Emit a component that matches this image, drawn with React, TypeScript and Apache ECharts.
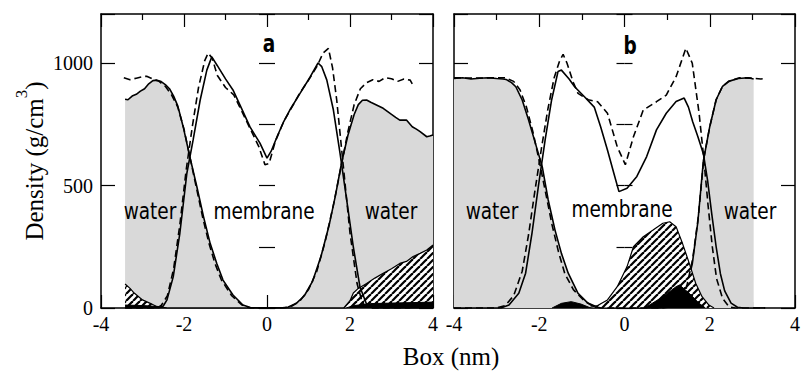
import React, { useEffect, useRef } from 'react';
import * as echarts from 'echarts';

type P = [number, number][];

// ---------- Panel a ----------
const aWaterSolid: P = [
  [-3.42, 852], [-3.35, 850], [-3.25, 865], [-3.15, 872], [-3.05, 885], [-2.95, 895], [-2.85, 915], [-2.75, 928],
  [-2.65, 930], [-2.55, 924], [-2.45, 912], [-2.35, 895], [-2.25, 865], [-2.15, 825], [-2.02, 740], [-1.86, 618],
  [-1.69, 495], [-1.53, 373], [-1.37, 264], [-1.21, 182], [-1.06, 114], [-0.82, 53], [-0.58, 12], [-0.4, 2],
  [-0.2, 0], [0.3, 0], [0.5, 3], [0.7, 18], [0.9, 50], [1.1, 110], [1.3, 210], [1.5, 340], [1.65, 460],
  [1.8, 595], [1.95, 705], [2.1, 790], [2.2, 830], [2.3, 848], [2.4, 849], [2.5, 840], [2.6, 832], [2.8, 815],
  [3.0, 790], [3.1, 778], [3.2, 767], [3.36, 767], [3.5, 740], [3.6, 730], [3.69, 720], [3.85, 699], [3.92, 702], [4.0, 706],
];
const aWaterDashed: P = [
  [-3.45, 940], [-3.3, 932], [-3.15, 938], [-3.0, 944], [-2.9, 946], [-2.75, 935], [-2.6, 925], [-2.45, 905],
  [-2.3, 870], [-2.15, 820], [-2.0, 730], [-1.85, 610], [-1.7, 490], [-1.55, 370], [-1.4, 265], [-1.25, 180],
  [-1.1, 115], [-0.85, 50], [-0.6, 12], [-0.4, 0], [0.4, 0], [0.6, 8], [0.8, 30], [1.0, 75], [1.2, 150],
  [1.4, 270], [1.6, 420], [1.8, 590], [1.95, 720], [2.1, 830], [2.25, 895], [2.4, 920], [2.55, 932], [2.7, 925],
  [2.85, 940], [3.0, 936], [3.15, 925], [3.3, 935], [3.45, 930], [3.5, 915],
];
const aMembraneSolid: P = [
  [-3.42, 0], [-2.6, 0], [-2.5, 8], [-2.41, 33], [-2.26, 127], [-2.1, 305], [-1.93, 551], [-1.78, 686],
  [-1.61, 849], [-1.45, 971], [-1.33, 1025], [-1.2, 990], [-1.0, 935], [-0.82, 890], [-0.6, 810], [-0.41, 739],
  [-0.17, 673], [0, 612], [0.1, 640], [0.24, 698], [0.4, 760], [0.55, 808], [0.8, 877], [1.04, 943], [1.23, 1000],
  [1.32, 985], [1.44, 931], [1.6, 808], [1.76, 631], [1.92, 441], [2.08, 249], [2.24, 86], [2.4, 15], [2.55, 0], [4.0, 0],
];
const aMembraneDashed: P = [
  [-3.42, 0], [-2.65, 0], [-2.55, 10], [-2.4, 50], [-2.25, 160], [-2.1, 340], [-1.95, 560], [-1.8, 740],
  [-1.65, 900], [-1.5, 1010], [-1.42, 1040], [-1.32, 1020], [-1.2, 950], [-1.0, 900], [-0.8, 870], [-0.6, 800],
  [-0.4, 730], [-0.2, 660], [-0.05, 585], [0.05, 590], [0.2, 680], [0.4, 760], [0.6, 820], [0.8, 880], [1.0, 930],
  [1.2, 985], [1.35, 1040], [1.48, 1060], [1.58, 980], [1.68, 849], [1.84, 577], [2.0, 306], [2.17, 100],
  [2.3, 20], [2.45, 0], [3.45, 0],
];
const aHatched: P = [
  [-3.42, 98], [-3.3, 80], [-3.2, 61], [-3.0, 33], [-2.8, 18], [-2.65, 5], [-2.54, 0], [1.85, 0], [2.0, 30],
  [2.08, 61], [2.2, 80], [2.4, 100], [2.6, 122], [2.8, 142], [3.0, 160], [3.2, 182], [3.36, 190], [3.52, 210],
  [3.69, 223], [3.85, 237], [4.0, 257],
];
const aBlack: P = [
  [-3.42, 12], [-3.0, 10], [-2.6, 6], [-2.4, 0], [1.9, 0], [2.1, 10], [2.5, 18], [3.0, 20], [3.5, 22], [4.0, 24],
];

// ---------- Panel b ----------
const bWaterSolid: P = [
  [-4, 937], [-3.8, 940], [-3.6, 935], [-3.4, 938], [-3.2, 940], [-3.0, 937], [-2.85, 935], [-2.78, 933],
  [-2.65, 920], [-2.55, 903], [-2.4, 849], [-2.25, 767], [-2.09, 672], [-1.93, 577], [-1.79, 441], [-1.63, 318],
  [-1.48, 223], [-1.32, 142], [-1.09, 60], [-0.86, 20], [-0.63, 3], [-0.4, 0], [0.8, 0], [1.0, 4], [1.15, 10],
  [1.29, 25], [1.44, 70], [1.59, 180], [1.72, 350], [1.85, 600], [2.0, 740], [2.15, 850], [2.3, 905],
  [2.44, 925], [2.67, 937], [2.9, 940], [3.03, 935],
];
const bWaterDashed: P = [
  [-4, 940], [-3.5, 938], [-3.0, 940], [-2.8, 940], [-2.6, 925], [-2.45, 890], [-2.3, 820], [-2.15, 720],
  [-2.0, 600], [-1.85, 470], [-1.7, 340], [-1.55, 230], [-1.4, 140], [-1.2, 75], [-0.95, 30], [-0.75, 8],
  [-0.55, 0], [0.9, 0], [1.1, 6], [1.3, 30], [1.45, 80], [1.6, 200], [1.73, 370], [1.86, 610], [2.0, 740],
  [2.15, 850], [2.3, 905], [2.45, 925], [2.7, 940], [3.0, 938], [3.2, 935], [3.33, 938],
];
const bMembraneSolid: P = [
  [-4, 0], [-2.9, 0], [-2.71, 12], [-2.48, 60], [-2.32, 142], [-2.17, 306], [-2.02, 497], [-1.86, 688],
  [-1.71, 849], [-1.56, 965], [-1.48, 971], [-1.3, 935], [-1.17, 903], [-0.94, 862], [-0.71, 820], [-0.56, 740],
  [-0.4, 645], [-0.25, 550], [-0.13, 475], [0.06, 489], [0.29, 537], [0.52, 618], [0.75, 727], [0.98, 795],
  [1.21, 843], [1.4, 857], [1.5, 820], [1.6, 760], [1.72, 700], [1.85, 630], [1.95, 520], [2.05, 380],
  [2.15, 250], [2.25, 140], [2.35, 70], [2.5, 20], [2.65, 3], [2.8, 0], [3.3, 0],
];
const bMembraneDashed: P = [
  [-4, 0], [-3.0, 0], [-2.8, 10], [-2.6, 50], [-2.4, 150], [-2.25, 300], [-2.1, 480], [-1.95, 650],
  [-1.8, 810], [-1.65, 940], [-1.52, 1010], [-1.44, 1035], [-1.35, 1000], [-1.2, 920], [-1.09, 876],
  [-0.85, 850], [-0.63, 842], [-0.4, 795], [-0.17, 658], [0.02, 585], [0.21, 699], [0.44, 808], [0.75, 842],
  [0.98, 869], [1.21, 944], [1.44, 1060], [1.59, 999], [1.75, 795], [1.86, 610], [1.96, 420], [2.06, 250],
  [2.16, 120], [2.3, 40], [2.45, 5], [2.6, 0], [3.3, 0],
];
const bHatched: P = [
  [-1.0, 0], [-0.8, 3], [-0.63, 10], [-0.4, 33], [-0.17, 87], [0.06, 169], [0.21, 250], [0.44, 291],
  [0.67, 318], [0.9, 346], [1.06, 352], [1.21, 332], [1.36, 264], [1.52, 182], [1.67, 101], [1.82, 46],
  [1.98, 12], [2.1, 0],
];
const bBlack: P = [
  [-1.7, 0], [-1.48, 19], [-1.25, 26], [-1.02, 16], [-0.79, 0], [0.45, 0], [0.52, 5], [0.9, 46], [1.21, 87],
  [1.29, 94], [1.52, 60], [1.75, 19], [1.9, 0],
];

const X_MIN = -4;
const X_MAX = 4;
const Y_MIN = 0;
const Y_MAX = 1200;

const SERIF = '"Liberation Serif", "Times New Roman", serif';
const SANS = '"DejaVu Sans", Verdana, sans-serif';
const GRAY = '#d9d9d9';

function makeHatch() {
  const s = 7;
  const c = document.createElement('canvas');
  c.width = s;
  c.height = s;
  const ctx = c.getContext('2d')!;
  ctx.fillStyle = '#fff';
  ctx.fillRect(0, 0, s, s);
  ctx.strokeStyle = '#000';
  ctx.lineWidth = 2.2;
  for (const k of [-s, 0, s]) {
    ctx.beginPath();
    ctx.moveTo(k, s);
    ctx.lineTo(k + s, 0);
    ctx.stroke();
  }
  return { image: c, repeat: 'repeat', imageWidth: s, imageHeight: s } as any;
}

export default function App() {
  const ref = useRef<HTMLDivElement>(null);
  useEffect(() => {
    if (!ref.current) return;
    const chart = echarts.init(ref.current, undefined, { renderer: 'svg' });
    const hatch = makeHatch();

    const grids = [
      { left: 101, top: 14, width: 332, height: 294 },
      { left: 454, top: 14, width: 347, height: 294 },
    ];
    const axisLine = { show: true, onZero: false, lineStyle: { color: '#000', width: 1.5 } };
    const xAxes: any[] = [];
    const yAxes: any[] = [];
    grids.forEach((_, gi) => {
      ['bottom', 'top'].forEach((pos) => {
        xAxes.push({
          type: 'value', gridIndex: gi, position: pos, min: X_MIN, max: X_MAX, interval: 2,
          axisLine,
          axisTick: { show: true, inside: true, length: 13, lineStyle: { color: '#000', width: 1.2 } },
          minorTick: { show: true, splitNumber: 2, length: 6, lineStyle: { color: '#000', width: 1.2 } },
          splitLine: { show: false },
          axisLabel: {
            show: pos === 'bottom', fontFamily: SERIF, fontSize: 20, color: '#000', margin: 6,
            formatter: (v: number) => String(v),
          },
        });
      });
      ['left', 'right'].forEach((pos) => {
        yAxes.push({
          type: 'value', gridIndex: gi, position: pos, min: Y_MIN, max: Y_MAX, interval: 500,
          axisLine,
          axisTick: { show: true, inside: true, length: 14, lineStyle: { color: '#000', width: 1.2 } },
          splitLine: { show: false },
          axisLabel: {
            show: gi === 0 && pos === 'left', fontFamily: SERIF, fontSize: 20, color: '#000', margin: 8,
            formatter: (v: number) => (v % 500 === 0 ? String(v) : ''),
          },
        });
        yAxes.push({
          type: 'value', gridIndex: gi, position: pos, min: Y_MIN, max: Y_MAX, interval: 250,
          axisLine: { show: false },
          axisTick: { show: true, inside: true, length: 8, lineStyle: { color: '#000', width: 1.2 } },
          splitLine: { show: false },
          axisLabel: { show: false },
        });
      });
    });

    const panels = [
      { ws: aWaterSolid, wd: aWaterDashed, ms: aMembraneSolid, md: aMembraneDashed, h: aHatched, b: aBlack },
      { ws: bWaterSolid, wd: bWaterDashed, ms: bMembraneSolid, md: bMembraneDashed, h: bHatched, b: bBlack },
    ];
    const series: any[] = [];
    panels.forEach((p, gi) => {
      const base = { type: 'line', xAxisIndex: gi * 2, yAxisIndex: gi * 4, symbol: 'none', smooth: false };
      series.push({ ...base, name: 'water', data: p.ws, z: 1,
        lineStyle: { color: '#000', width: 1.6 }, areaStyle: { color: GRAY, opacity: 1 } });
      series.push({ ...base, name: 'hatched', data: p.h, z: 2,
        lineStyle: { color: '#000', width: 1.2 }, areaStyle: { color: hatch, opacity: 1 } });
      series.push({ ...base, name: 'black', data: p.b, z: 3,
        lineStyle: { color: '#000', width: 1 }, areaStyle: { color: '#000', opacity: 1 } });
      series.push({ ...base, name: 'membrane', data: p.ms, z: 4, lineStyle: { color: '#000', width: 1.6 } });
      series.push({ ...base, name: 'membrane ref', data: p.md, z: 5,
        lineStyle: { color: '#000', width: 1.6, type: [7, 4] } });
      series.push({ ...base, name: 'water ref', data: p.wd, z: 5,
        lineStyle: { color: '#000', width: 1.6, type: [7, 4] } });
    });

    const label = (text: string, x: number, y: number, bold = false, size = 18.5, sy = 1.2) => ({
      type: 'text', x, y, z: 100, scaleY: sy,
      style: {
        text, fill: '#000', fontFamily: SANS, fontSize: size, fontWeight: bold ? 'bold' : 'normal',
        align: 'center', verticalAlign: 'middle', textAlign: 'center', textVerticalAlign: 'middle',
      },
    });

    chart.setOption({
      animation: false,
      backgroundColor: '#fff',
      grid: grids,
      xAxis: xAxes,
      yAxis: yAxes,
      series,
      graphic: [
        label('a', 269, 44, true, 18.5, 1.3),
        label('b', 630, 46, true, 18.5, 1.3),
        label('water', 150, 211),
        label('membrane', 264, 211),
        label('water', 391, 211),
        label('water', 492, 211),
        label('membrane', 622, 209),
        label('water', 750, 211),
        {
          type: 'text', x: 451, y: 356, z: 100,
          style: { text: 'Box (nm)', fill: '#000', fontFamily: SERIF, fontSize: 25,
            align: 'center', verticalAlign: 'middle', textAlign: 'center', textVerticalAlign: 'middle' },
        },
        {
          type: 'text', x: 30, y: 161, rotation: Math.PI / 2, z: 100,
          style: {
            text: '{m|Density (g/cm}{s|3}{m|)}', fill: '#000',
            align: 'center', verticalAlign: 'middle', textAlign: 'center', textVerticalAlign: 'middle',
            rich: {
              m: { fontFamily: SERIF, fontSize: 25, lineHeight: 34, verticalAlign: 'bottom', fill: '#000' },
              s: { fontFamily: SERIF, fontSize: 17, lineHeight: 34, verticalAlign: 'top', fill: '#000' },
            },
          },
        },
      ],
    });
    return () => chart.dispose();
  }, []);
  return (
    <div
      ref={ref}
      style={{ position: 'absolute', left: 0, top: 0, width: 803, height: 374, background: '#fff' }}
    />
  );
}
